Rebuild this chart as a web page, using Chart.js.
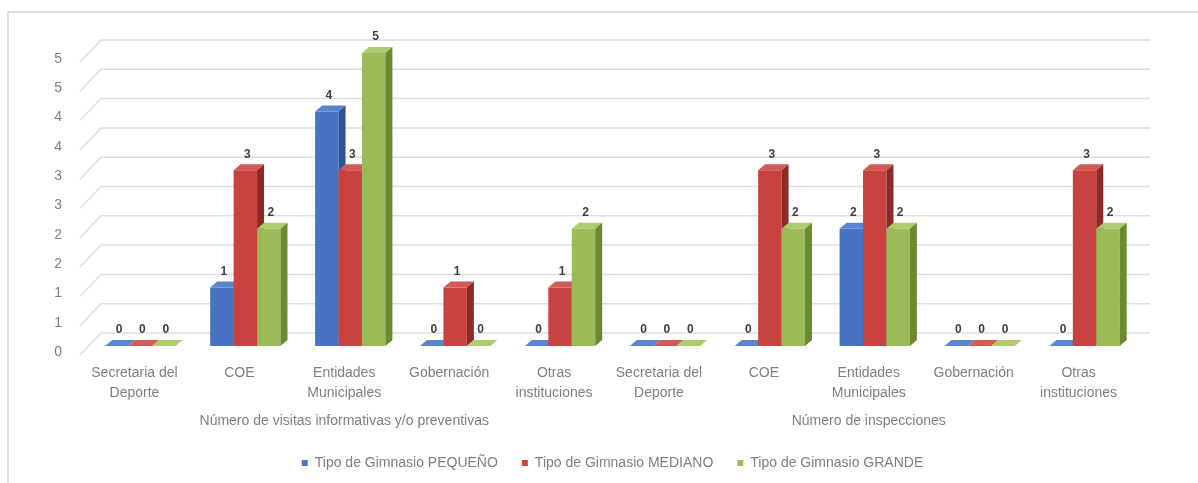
<!DOCTYPE html>
<html lang="es">
<head>
<meta charset="utf-8">
<title>Visitas e inspecciones por tipo de gimnasio</title>
<script src="https://cdn.jsdelivr.net/npm/chart.js@4/dist/chart.umd.min.js"></script>
<style>
  html, body { margin: 0; padding: 0; background: #fff; }
  #wrap { width: 1198px; height: 483px; }
</style>
</head>
<body>
<div id="wrap"><canvas id="gym" width="1198" height="483"></canvas></div>
<script>
/* data */
const institutions = [['Secretaria del', 'Deporte'], 'COE', ['Entidades', 'Municipales'], 'Gobernación', ['Otras', 'instituciones']];
const categories = [...institutions, ...institutions];
const groupNames = ['Número de visitas informativas y/o preventivas', 'Número de inspecciones'];
const seriesNames = ['Tipo de Gimnasio PEQUEÑO', 'Tipo de Gimnasio MEDIANO', 'Tipo de Gimnasio GRANDE'];
const pequeno = [0, 1, 4, 0, 0, 0, 0, 2, 0, 0];
const mediano = [0, 3, 3, 1, 1, 0, 3, 3, 0, 3];
const grande  = [0, 2, 5, 0, 2, 0, 2, 2, 0, 2];
const yMax = 5, yStep = 0.5;

const FONT = '"Liberation Sans", Arial, sans-serif';
const GREY = '#7f7f7f';
const DEPTH = { dx: 7, dy: 6 };   // bar extrusion
const WALL = { dx: 13, dy: 13 };  // back wall offset for gridlines

/* outer frame */
const framePlugin = {
  id: 'frame',
  beforeDraw(chart) {
    const ctx = chart.ctx;
    ctx.save();
    ctx.strokeStyle = '#d9d9d9';
    ctx.lineWidth = 1.5;
    ctx.strokeRect(8, 12, 1400, 800);
    ctx.restore();
  }
};

/* pseudo-3D: back wall gridlines, extruded bars and value labels */
const pseudo3d = {
  id: 'pseudo3d',
  beforeDatasetsDraw(chart) {
    const { ctx, chartArea, scales: { y } } = chart;
    ctx.save();
    ctx.strokeStyle = '#dedede';
    ctx.lineWidth = 1.5;
    for (let v = 0; v <= yMax + 1e-9; v += yStep) {
      const py = y.getPixelForValue(v);
      ctx.beginPath();
      ctx.moveTo(chartArea.left - 8, py + 9);
      ctx.lineTo(chartArea.left + WALL.dx, py - WALL.dy);
      ctx.lineTo(chartArea.right + WALL.dx, py - WALL.dy);
      ctx.stroke();
    }

    // datasets in order so later series hide the sides of earlier ones
    chart.data.datasets.forEach((ds, i) => {
      const meta = chart.getDatasetMeta(i);
      meta.data.forEach((bar, j) => {
        bar.draw(ctx);
        const l = bar.x - bar.width / 2, r = bar.x + bar.width / 2;
        const t = bar.y, b = bar.base;
        ctx.fillStyle = ds.topColor;
        ctx.beginPath();
        ctx.moveTo(l, t);
        ctx.lineTo(l + DEPTH.dx, t - DEPTH.dy);
        ctx.lineTo(r + DEPTH.dx, t - DEPTH.dy);
        ctx.lineTo(r, t);
        ctx.closePath();
        ctx.fill();
        ctx.fillStyle = ds.sideColor;
        ctx.beginPath();
        ctx.moveTo(r, t);
        ctx.lineTo(r + DEPTH.dx, t - DEPTH.dy);
        ctx.lineTo(r + DEPTH.dx, b - DEPTH.dy);
        ctx.lineTo(r, b);
        ctx.closePath();
        ctx.fill();

        ctx.fillStyle = '#404040';
        ctx.font = 'bold 12px ' + FONT;
        ctx.textAlign = 'center';
        ctx.textBaseline = 'middle';
        ctx.fillText(String(ds.data[j]), bar.x + 2, t - 16);
      });
    });
    ctx.restore();
    return false;
  },
  afterDraw(chart) {
    // group captions under the category labels
    const { ctx, scales: { x } } = chart;
    const per = institutions.length;
    ctx.save();
    ctx.fillStyle = GREY;
    ctx.font = '14px ' + FONT;
    ctx.textAlign = 'center';
    ctx.textBaseline = 'middle';
    groupNames.forEach((name, g) => {
      const a = x.getPixelForTick(g * per), z = x.getPixelForTick(g * per + per - 1);
      ctx.fillText(name, (a + z) / 2 - 6, x.top + 75);
    });
    ctx.restore();
  }
};

new Chart(document.getElementById('gym'), {
  type: 'bar',
  data: {
    labels: categories,
    datasets: [
      { label: seriesNames[0], data: pequeno, backgroundColor: '#4674c2', sideColor: '#2d5394', topColor: '#5a86cf' },
      { label: seriesNames[1], data: mediano, backgroundColor: '#c8433f', sideColor: '#8c2a27', topColor: '#d35a56' },
      { label: seriesNames[2], data: grande,  backgroundColor: '#9bbb59', sideColor: '#6b8a30', topColor: '#aecb70' }
    ]
  },
  options: {
    responsive: false,
    animation: false,
    categoryPercentage: 0.67,
    barPercentage: 1,
    layout: { padding: { top: 53, right: 61, bottom: 3, left: 0 } },
    scales: {
      x: {
        grid: { display: false },
        border: { display: false },
        ticks: {
          autoSkip: false, maxRotation: 0, padding: 9, labelOffset: -6,
          color: GREY, font: { family: FONT, size: 14, lineHeight: '20px' }
        },
        afterFit(scale) { scale.height = 86; }
      },
      y: {
        min: 0, max: yMax,
        grid: { display: false },
        border: { display: false },
        ticks: {
          stepSize: yStep, padding: 18, labelOffset: 6,
          color: GREY, font: { family: FONT, size: 14 },
          callback: v => Math.round(v)
        },
        afterFit(scale) { scale.width = 88; }
      }
    },
    plugins: {
      legend: {
        position: 'bottom',
        fullSize: false,
        labels: { boxWidth: 6, boxHeight: 6, padding: 24, color: GREY, font: { family: FONT, size: 14 } }
      },
      tooltip: { enabled: false }
    }
  },
  plugins: [framePlugin, pseudo3d]
});
</script>
</body>
</html>
